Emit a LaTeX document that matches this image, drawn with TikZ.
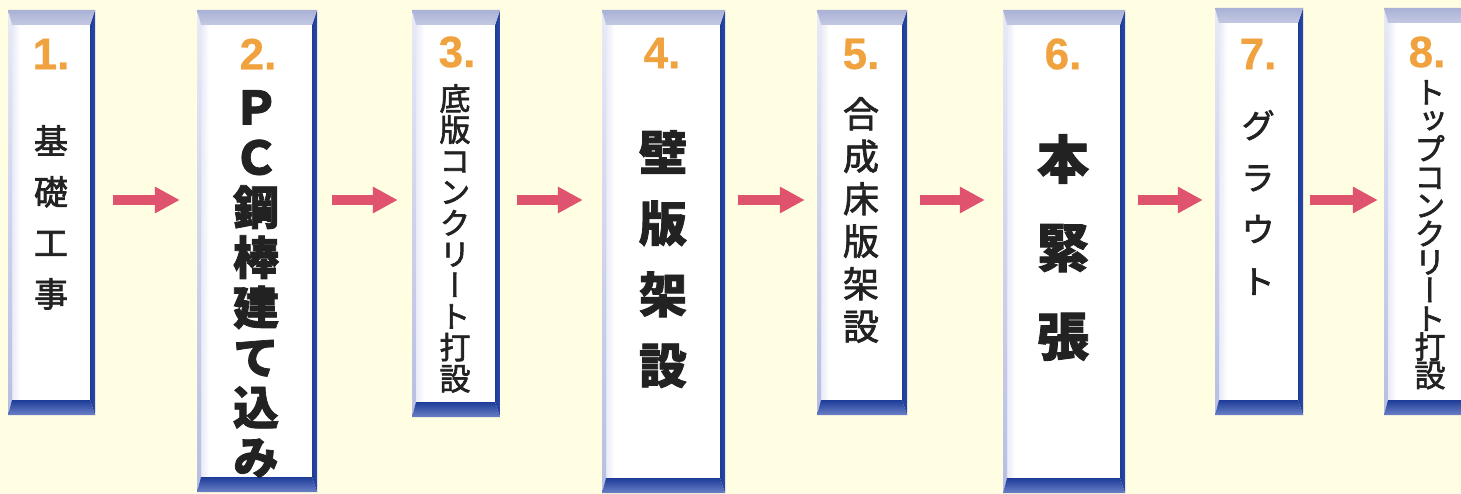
\documentclass[tikz,border=0pt]{standalone}
\usepackage{fontspec}
\newfontfamily\cjk[RawFeature=+vert,FakeBold=2]{Noto Sans CJK JP}
\newfontfamily\cjkheavy[RawFeature=+vert,FakeBold=1.6]{Noto Sans CJK JP}
\newfontfamily\numfont[FakeBold=0.6]{Liberation Sans}
\usetikzlibrary{arrows.meta,calc}
\definecolor{bg}{HTML}{FFFDE2}
\definecolor{frameblue}{HTML}{2A4AA6}
\definecolor{darkblue}{HTML}{1C3C98}
\definecolor{lightblue}{HTML}{6B80C6}
\definecolor{bevelA}{HTML}{C4C9E2}
\definecolor{bevelB}{HTML}{A9B1D6}
\definecolor{sideA}{HTML}{E8EAF6}
\definecolor{sideB}{HTML}{B7BEE2}
\definecolor{numorange}{HTML}{F0A23E}
\definecolor{arrowred}{HTML}{E0536E}
\definecolor{textblack}{HTML}{222222}
\tikzset{
  num/.style={font=\numfont\bfseries\fontsize{44}{44}\selectfont, text=numorange, inner sep=0pt},
  vlabel/.style={align=center, inner sep=0pt, anchor=north, text=textblack},
  boxnode/.style={inner sep=0pt, draw=none},
  flowarrow/.style={draw=arrowred, line width=10pt, -{Triangle[length=25pt,width=25pt]}},
}
% \stepframe{name}{x1}{x2}{top}{bottom}
\newcommand{\stepframe}[5]{%
  \fill[white] (#2,#4) rectangle (#3,#5);
  \shade[left color=sideA, right color=white] (#2+4,#4+15) rectangle (#2+12,#5-15);
  \shade[top color=sideA, bottom color=sideB] (#2,#4) -- (#2+4,#4+15) -- (#2+4,#5-15) -- (#2,#5) -- cycle;
  \shade[left color=darkblue, right color=frameblue] (#3-5,#4+15) -- (#3,#4) -- (#3,#5) -- (#3-5,#5-15) -- cycle;
  \shade[top color=bevelB, bottom color=bevelA] (#2,#4) -- (#3,#4) -- (#3-5,#4+15) -- (#2+4,#4+15) -- cycle;
  \shade[top color=darkblue, bottom color=lightblue] (#2+4,#5-15) -- (#3-5,#5-15) -- (#3,#5) -- (#2,#5) -- cycle;
  \node[boxnode, minimum width={(#3-#2)*1pt}, minimum height={(#5-#4)*1pt}] (#1) at ({(#2+#3)/2},{(#4+#5)/2}) {};
}
\begin{document}
\lineskiplimit=-100pt\relax
\lineskip=0pt\relax
\begin{tikzpicture}[x=1pt,y=-1pt]
\useasboundingbox (0,0) rectangle (1461,494);
\clip (0,0) rectangle (1461,494);
\fill[bg] (0,0) rectangle (1461,494);
\coordinate (arrowline) at (0,200);

\stepframe{b1}{8}{95}{10}{415}
\stepframe{b2}{197}{317}{10}{492}
\stepframe{b3}{412}{500}{10}{417}
\stepframe{b4}{602}{725}{10}{493}
\stepframe{b5}{817}{907}{10}{415}
\stepframe{b6}{1003}{1125}{10}{493}
\stepframe{b7}{1215}{1303}{8}{415}
\stepframe{b8}{1384}{1472}{8}{415}

\node[num] (n1) at (51,54) {1.};
\node[num] (n2) at (258,54) {2.};
\node[num] (n3) at (457,52) {3.};
\node[num] (n4) at (662,53) {4.};
\node[num] (n5) at (861,54) {5.};
\node[num] (n6) at (1063,54) {6.};
\node[num] (n7) at (1258,54) {7.};
\node[num] (n8) at (1427,52) {8.};

\node[vlabel, font=\cjk\fontsize{34}{51}\selectfont] (t1) at (51,125) {基\\礎\\工\\事};
\node[vlabel, font=\cjkheavy\bfseries\fontsize{46}{50}\selectfont] (t2) at (256,90) {Ｐ\\Ｃ\\鋼\\棒\\建\\て\\込\\み};
\node[vlabel, font=\cjk\fontsize{31}{31.1}\selectfont] (t3) at (455,84) {底\\版\\コ\\ン\\ク\\リ\\ー\\ト\\打\\設};
\node[vlabel, font=\cjkheavy\bfseries\fontsize{48}{71}\selectfont] (t4) at (663,130) {壁\\版\\架\\設};
\node[vlabel, font=\cjk\fontsize{36}{42.5}\selectfont] (t5) at (861,97) {合\\成\\床\\版\\架\\設};
\node[vlabel, font=\cjkheavy\bfseries\fontsize{52}{88.5}\selectfont] (t6) at (1063,134) {本\\緊\\張};
\node[vlabel, font=\cjk\fontsize{34}{52}\selectfont] (t7) at (1258,110) {グ\\ラ\\ウ\\ト};
\node[vlabel, font=\cjk\fontsize{31}{28.3}\selectfont] (t8) at (1430,80) {ト\\ッ\\プ\\コ\\ン\\ク\\リ\\ー\\ト\\打\\設};

\draw[flowarrow, shorten <=18pt, shorten >=17pt] (b1.east |- arrowline) -- (b2.west |- arrowline);
\draw[flowarrow, shorten <=15pt, shorten >=14pt] (b2.east |- arrowline) -- (b3.west |- arrowline);
\draw[flowarrow, shorten <=17pt, shorten >=19pt] (b3.east |- arrowline) -- (b4.west |- arrowline);
\draw[flowarrow, shorten <=13pt, shorten >=12pt] (b4.east |- arrowline) -- (b5.west |- arrowline);
\draw[flowarrow, shorten <=13pt, shorten >=18pt] (b5.east |- arrowline) -- (b6.west |- arrowline);
\draw[flowarrow, shorten <=13pt, shorten >=12pt] (b6.east |- arrowline) -- (b7.west |- arrowline);
\draw[flowarrow, shorten <=7pt, shorten >=6pt] (b7.east |- arrowline) -- (b8.west |- arrowline);
\end{tikzpicture}
\end{document}
